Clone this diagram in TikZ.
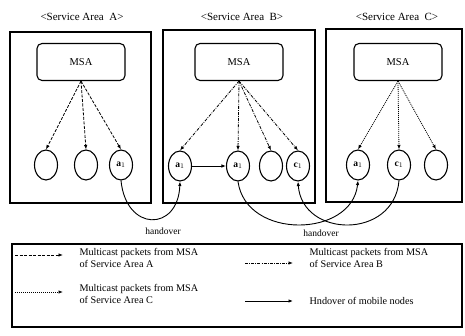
\documentclass[tikz,border=0pt]{standalone}
\usepackage{fontspec}
\setmainfont{Liberation Serif}
\usetikzlibrary{shapes.geometric,arrows.meta}
\begin{document}
\begin{tikzpicture}[x=1pt,y=-1pt,
 area/.style={draw,line width=1.2pt},
 msa/.style={draw,rounded corners=5pt,minimum width=88pt,minimum height=37pt,line width=1.1pt,font=\fontsize{10.5}{12}\selectfont},
 mn/.style={draw,ellipse,minimum width=23pt,minimum height=30pt,inner sep=0pt,line width=1.1pt,font=\fontsize{9.5}{10}\selectfont\bfseries},
 title/.style={font=\fontsize{11}{13}\selectfont},
 arr/.style={-{Latex[length=4.5pt,width=3.5pt]},line width=0.8pt},
 pA/.style={arr,dash pattern=on 3pt off 1.5pt},
 pB/.style={arr,dash pattern=on 3pt off 1.2pt on 0.8pt off 1.2pt},
 pC/.style={arr,dash pattern=on 1pt off 1pt},
 ho/.style={arr,line width=0.9pt},
 hl/.style={font=\fontsize{9.5}{10}\selectfont},
 lt/.style={font=\fontsize{10.2}{11.5}\selectfont,align=left,anchor=west},
]
\useasboundingbox (0,0) rectangle (465,336);
\fill[white] (0,0) rectangle (465,336);

% service areas
\draw[area] (10,32) rectangle (151,203);
\draw[area] (163,30) rectangle (315,203);
\draw[area] (326,29) rectangle (462,202);
\node[title] (tA) at (82,17) {<Service Area\enspace A>};
\node[title] (tB) at (242,17) {<Service Area\enspace B>};
\node[title] (tC) at (397,17) {<Service Area\enspace C>};

% MSAs
\node[msa] (mA) at (81,62) {MSA};
\node[msa] (mB) at (239,62) {MSA};
\node[msa] (mC) at (398,62) {MSA};

% mobile nodes
\node[mn] (a1) at (46,165) {};
\node[mn] (a2) at (86,165) {};
\node[mn] (a3) at (121,165) {a$_1$};
\node[mn] (b1) at (180,166) {a$_1$};
\node[mn] (b2) at (238,166) {a$_1$};
\node[mn] (b3) at (271,166) {};
\node[mn] (b4) at (298,166) {c$_1$};
\node[mn] (c1) at (358,165) {a$_1$};
\node[mn] (c2) at (399,165) {c$_1$};
\node[mn] (c3) at (436,165) {};

% multicast
\draw[pA] (mA.south) -- (a1.north);
\draw[pA] (mA.south) -- (a2.north);
\draw[pA] (mA.south) -- (a3.north);
\draw[pB] (mB.south) -- (b1.north);
\draw[pB] (mB.south) -- (b2.north);
\draw[pB] (mB.south) -- (b3.north);
\draw[pB] (mB.south) -- (b4.north);
\draw[pC] (mC.south) -- (c1.north);
\draw[pC] (mC.south) -- (c2.north);
\draw[pC] (mC.south) -- (c3.north);

% handovers
\draw[ho] (b1.east) -- (b2.west);
\draw[ho] (a3.south) .. controls (126,232) and (178,232) .. (b1.south);
\node[hl] (h1) at (163,231) {handover};
\draw[ho] (b2.south) .. controls (246,240) and (352,238) .. (c1.south);
\draw[ho] (c2.south) .. controls (394,240) and (302,238) .. (b4.south);
\node[hl] (h2) at (321,233) {handover};

% legend
\draw[line width=1.1pt] (12,244) rectangle (462,327);
\coordinate (lA1) at (15,255); \coordinate (lA2) at (63,255);
\draw[pA] (lA1) -- (lA2);
\node[lt] (tlA) at (76,258) {Multicast packets from MSA\\of Service Area A};
\coordinate (lC1) at (15,292); \coordinate (lC2) at (63,292);
\draw[pC] (lC1) -- (lC2);
\node[lt] (tlC) at (76,294) {Multicast packets from MSA\\of Service Area C};
\coordinate (lB1) at (245,263); \coordinate (lB2) at (293,263);
\draw[pB] (lB1) -- (lB2);
\node[lt] (tlB) at (306,258) {Multicast packets from MSA\\of Service Area B};
\coordinate (lH1) at (245,301); \coordinate (lH2) at (293,301);
\draw[ho] (lH1) -- (lH2);
\node[lt] (tlH) at (306,301) {Hndover of mobile nodes};
\end{tikzpicture}
\end{document}
